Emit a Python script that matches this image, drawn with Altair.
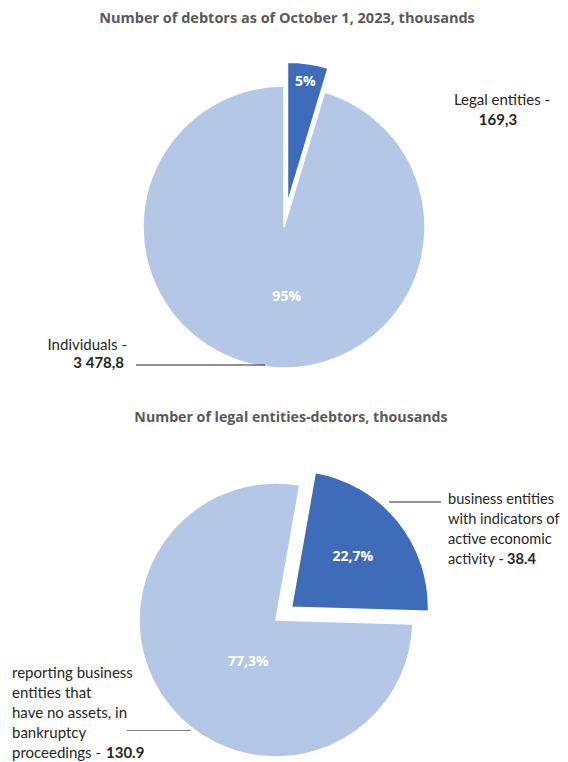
import math
import altair as alt
import pandas as pd

# ---- data ----
top_title = "Number of debtors as of October 1, 2023, thousands"
top_categories = ["Legal entities", "Individuals"]
top_values = [169.3, 3478.8]
top_labels = ["5%", "95%"]

bottom_title = "Number of legal entities-debtors, thousands"
bottom_categories = [
    "business entities with indicators of active economic activity",
    "reporting business entities that have no assets, in bankruptcy proceedings",
]
bottom_values = [38.4, 130.9]
bottom_labels = ["22,7%", "77,3%"]

DARK = "#3F6CB8"
LIGHT = "#B4C7E7"
TXT = "#262626"
TITLE_C = "#595959"
FONT = "Lato"
TFONT = "Open Sans"

W, H = 552, 754
theta_scale = alt.Scale(domain=[0, 360], range=[0, 2 * math.pi])


def angles(values, labels, cats, rotation):
    total = sum(values)
    rows = []
    acc = rotation
    for v, l, c in zip(values, labels, cats):
        a0 = acc
        a1 = acc + 360 * v / total
        rows.append({"cat": c, "value": v, "label": l, "a0": a0, "a1": a1, "mid": (a0 + a1) / 2})
        acc = a1
    return pd.DataFrame(rows)


def pie(df, cx, cy, r, colors, explode, label_cfg):
    layers = []
    for i in range(len(df)):
        row = df.iloc[[i]]
        mid = math.radians(df.iloc[i]["mid"])
        d = explode[i]
        ox, oy = d * math.sin(mid), -d * math.cos(mid)
        src = alt.Chart(row)
        layers.append(
            src.mark_arc(radius=r, stroke="white", strokeWidth=1.5, color=colors[i]).encode(
                theta=alt.Theta("a0:Q", scale=theta_scale),
                theta2="a1:Q",
                x=alt.value(cx + ox),
                y=alt.value(cy + oy),
            )
        )
        lr, ldx, ldy = label_cfg[i]
        layers.append(
            src.mark_text(
                radius=lr, dx=ldx, dy=ldy, font=TFONT, fontSize=14, fontWeight="bold",
                color="white", align="center", baseline="middle",
            ).encode(
                theta=alt.Theta("mid:Q", scale=theta_scale),
                text="label:N",
                x=alt.value(cx + ox),
                y=alt.value(cy + oy),
            )
        )
    return layers


def txt(s, x, y, bold=False, align="left", size=15, color=TXT, font=FONT):
    return alt.Chart(pd.DataFrame({"t": [s]})).mark_text(
        font=font, fontSize=size, fontWeight="bold" if bold else "normal",
        color=color, align=align, baseline="middle",
    ).encode(text="t:N", x=alt.value(x), y=alt.value(y))


def rule(x1, x2, y, color=TXT):
    return alt.Chart(pd.DataFrame({"a": [0]})).mark_rule(color=color, strokeWidth=1).encode(
        x=alt.value(x1), x2=alt.value(x2), y=alt.value(y)
    )


top_df = angles(top_values, top_labels, top_categories, 0)
bot_df = angles(bottom_values, bottom_labels, bottom_categories, 10)

layers = []
layers += pie(top_df, 276, 219, 141, [DARK, LIGHT], [24, 0], [(123, 0, 0), (71, 13, 0)])
layers += pie(bot_df, 268, 612, 137, [DARK, LIGHT], [20, 0], [(79, 0, 0), (50, 11, 10)])

# titles
layers.append(txt(top_title, 279, 11, bold=True, align="center", size=14.5, color=TITLE_C, font=TFONT))
layers.append(txt(bottom_title, 283, 410, bold=True, align="center", size=14.2, color=TITLE_C, font=TFONT))

# top annotations
layers.append(txt("Legal entities -", 494, 92, align="center"))
layers.append(txt("169,3", 490, 112, bold=True, align="center"))
layers.append(txt("Individuals -", 119, 337, align="right"))
layers.append(txt("3 478,8", 116, 355, bold=True, align="right"))
layers.append(rule(128, 257, 357))

# bottom annotations
BR = 14.6
for i, s in enumerate(["business entities", "with indicators of", "active economic", "activity -"]):
    layers.append(txt(s, 440, 492 + 20 * i, size=BR))
layers.append(txt("38.4", 499, 552, bold=True, size=BR))
layers.append(rule(381, 433, 494))

for i, s in enumerate(["reporting business", "entities that", "have no assets, in", "bankruptcy", "proceedings -"]):
    layers.append(txt(s, 4, 665 + 20 * i))
layers.append(txt("130.9", 98, 745, bold=True))
layers.append(rule(119, 183, 722.5, color="#7F7F7F"))

chart = alt.layer(*layers).properties(
    width=W, height=H, padding=0, autosize=alt.AutoSizeParams(type="none")
).configure_view(stroke=None)

chart.save("out.html", embed_options={"renderer": "svg", "actions": False})
